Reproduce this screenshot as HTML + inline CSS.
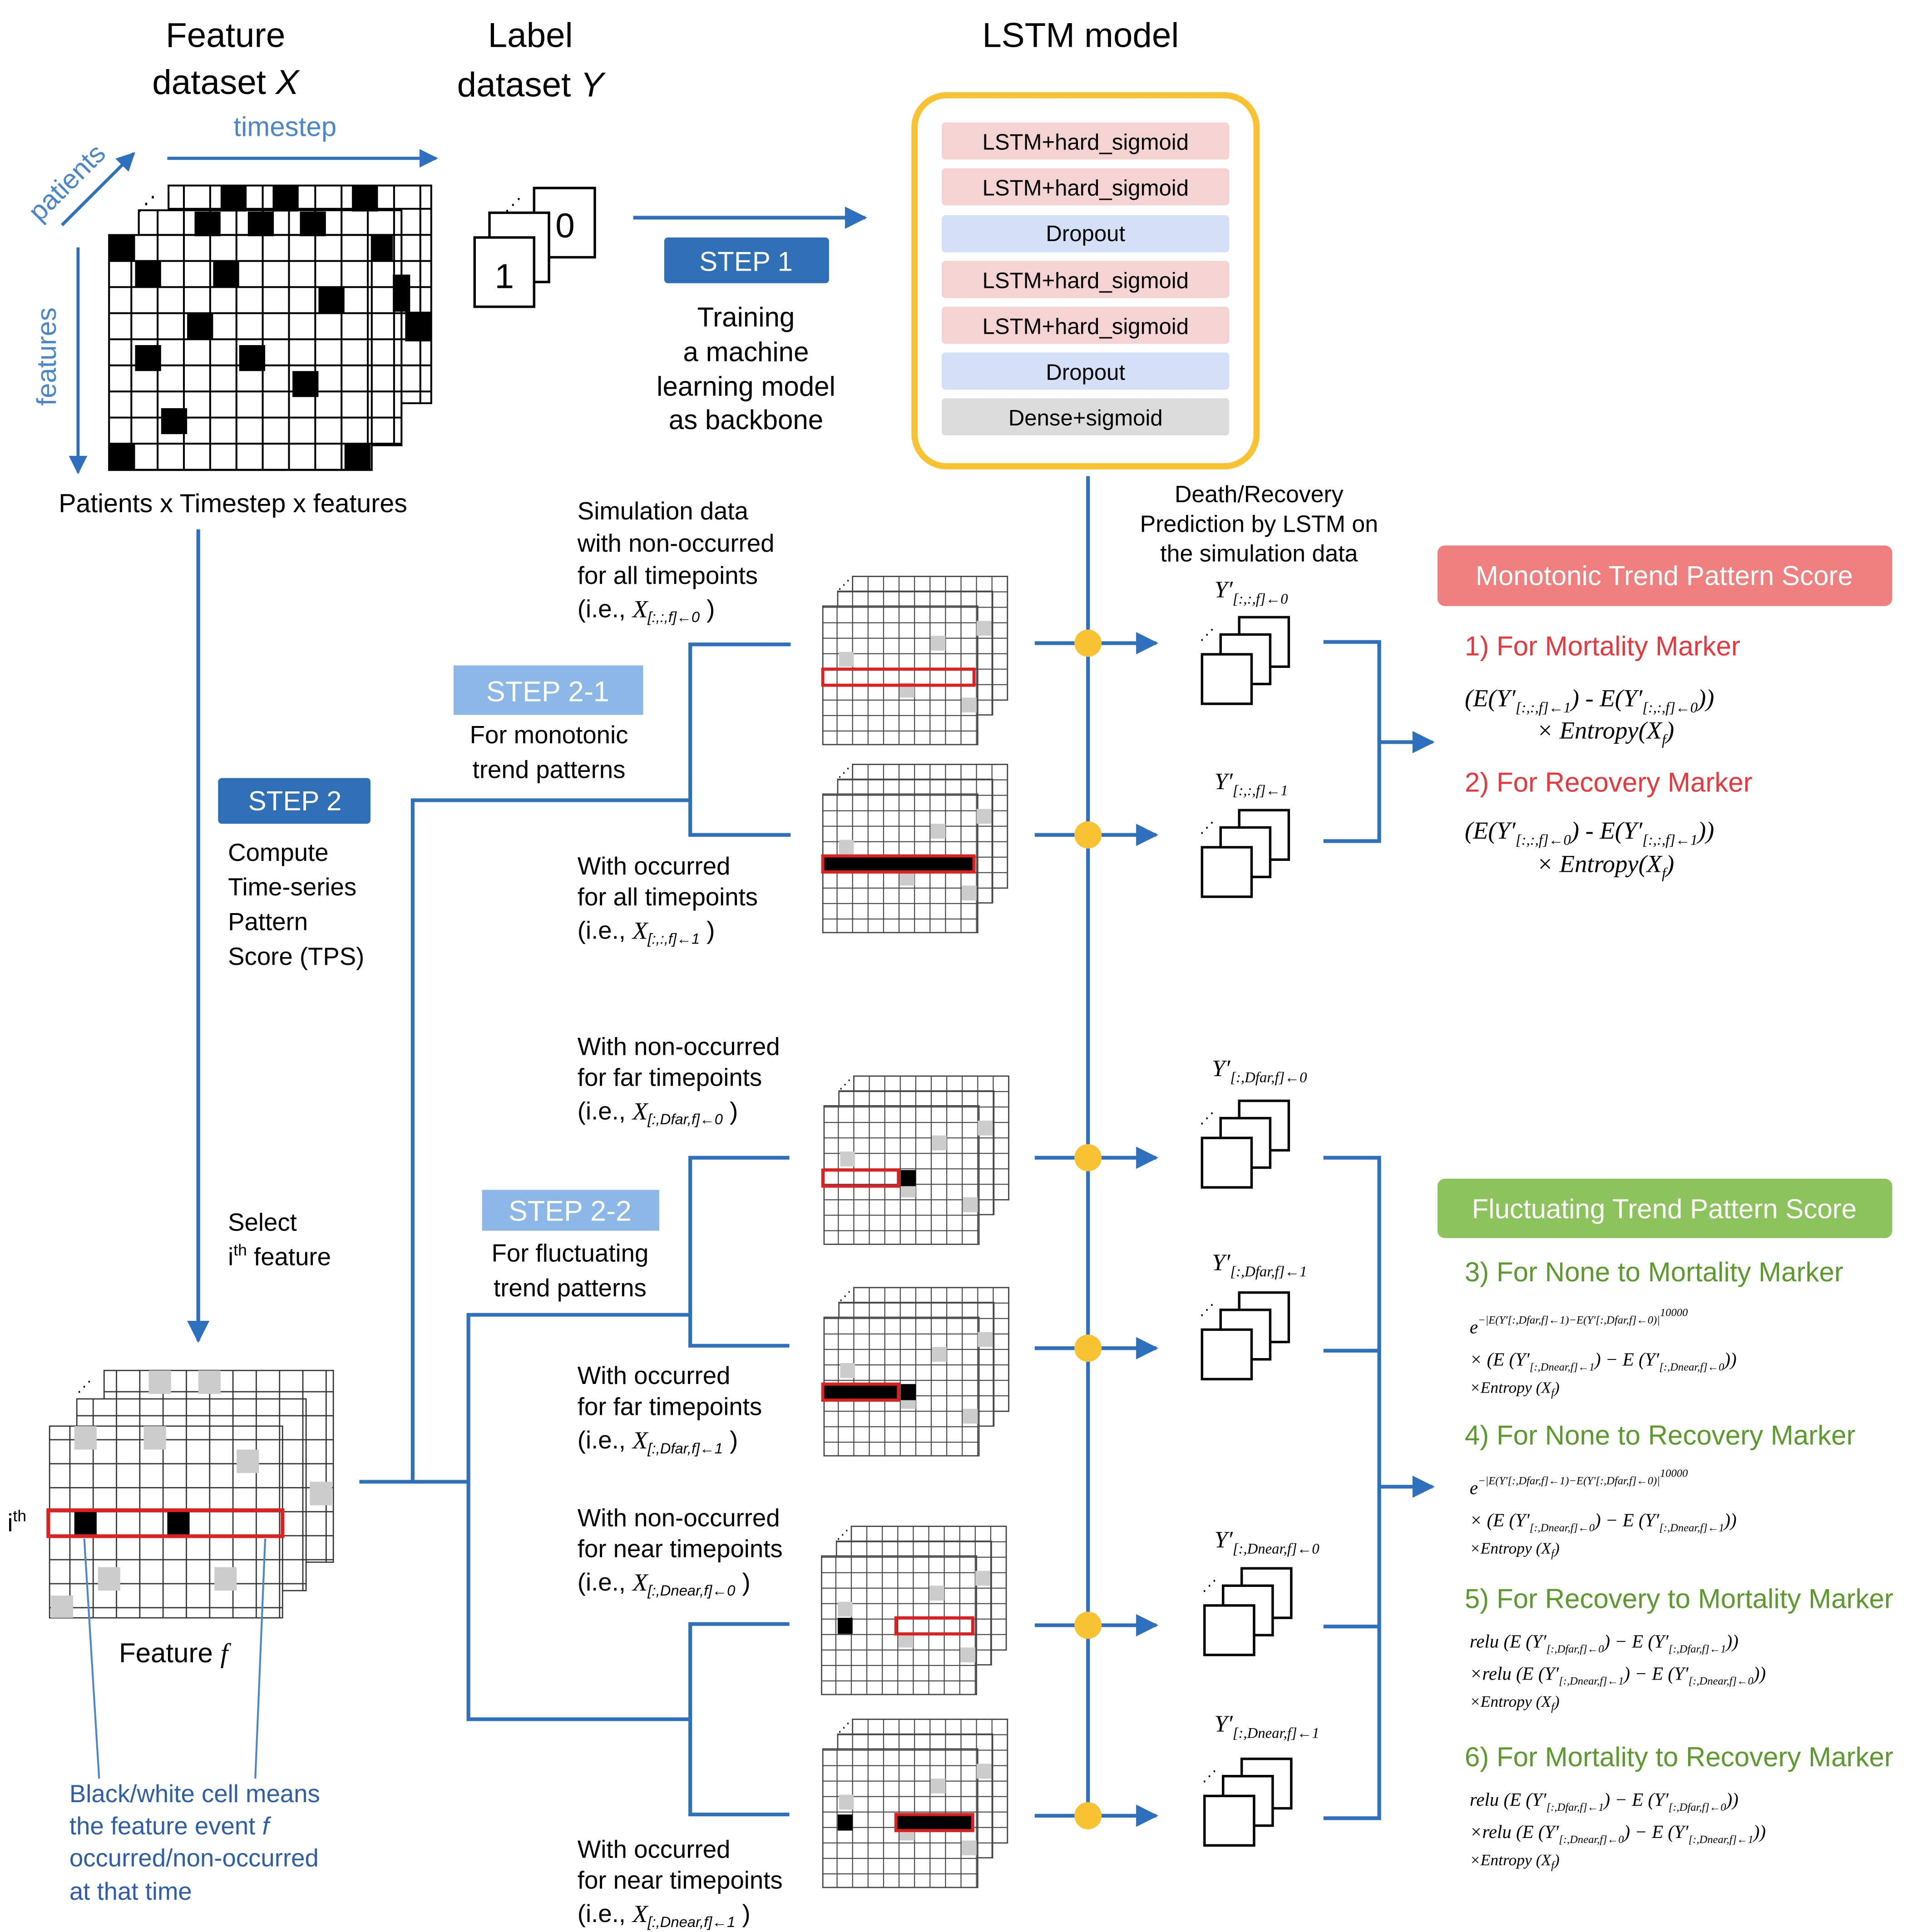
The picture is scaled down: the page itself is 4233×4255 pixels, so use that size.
<!DOCTYPE html>
<html><head><meta charset="utf-8"><style>html,body{margin:0;padding:0;background:#fff}svg{display:block}</style></head><body>
<svg width="4233" height="4255" viewBox="0 0 1551 1562" preserveAspectRatio="none" xmlns="http://www.w3.org/2000/svg" font-family="Liberation Sans, sans-serif">
<defs>
<pattern id="g21" width="21.2" height="21.1" patternUnits="userSpaceOnUse"><rect width="21.2" height="21.1" fill="#fff" stroke="#000" stroke-width="1.5"/></pattern>
<pattern id="g12" width="12.5" height="12.5" patternUnits="userSpaceOnUse"><rect width="12.5" height="12.5" fill="#fff" stroke="#444" stroke-width="0.8"/></pattern>
<pattern id="g19" width="18.8" height="19.4" patternUnits="userSpaceOnUse"><rect width="18.8" height="19.4" fill="#fff" stroke="#333" stroke-width="1"/></pattern>
<marker id="a" viewBox="0 0 10 10" refX="9" refY="5" markerWidth="6" markerHeight="6" orient="auto"><path d="M0,0 L10,5 L0,10z" fill="#2e6fbe"/></marker>
<g id="sg">
<rect x="0" y="0" width="125" height="100" fill="url(#g12)" stroke="#444"/>
<rect x="-12" y="12" width="125" height="100" fill="url(#g12)" stroke="#444"/>
<rect x="-24" y="24" width="125" height="112" fill="url(#g12)" stroke="#444"/>
<g fill="#ccc"><rect x="-11" y="61" width="12" height="12"/><rect x="38" y="86" width="12" height="12"/><rect x="88" y="98" width="12" height="12"/><rect x="63" y="48" width="12" height="12"/><rect x="100" y="36" width="12" height="12"/></g>
<text x="-12" y="10" font-size="10">⋰</text>
</g>
<g id="ob" fill="#fff" stroke="#000" stroke-width="2">
<rect x="30" y="0" width="40" height="40"/><rect x="15" y="14" width="40" height="40"/><rect x="0" y="30" width="40" height="40"/>
<text x="-2" y="18" font-size="12" stroke="none" fill="#000">⋰</text>
</g>
</defs>
<rect width="1551" height="1562" fill="#fff"/>
<g font-size="28" text-anchor="middle" fill="#000">
<text x="182" y="38">Feature</text><text x="182" y="76">dataset <tspan font-style="italic">X</tspan></text>
<text x="428" y="38">Label</text><text x="428" y="78">dataset <tspan font-style="italic">Y</tspan></text>
<text x="872" y="38">LSTM model</text>
</g>
<g stroke="#2e6fbe" stroke-width="2.5" fill="none">
<line x1="135" y1="128" x2="352" y2="128" marker-end="url(#a)"/>
<line x1="50" y1="182" x2="108" y2="124" marker-end="url(#a)"/>
<line x1="63" y1="200" x2="63" y2="382" marker-end="url(#a)"/>
</g>
<text x="230" y="110" font-size="22" fill="#4a86c8" text-anchor="middle">timestep</text>
<text transform="translate(32,180) rotate(-45)" font-size="22" fill="#4a86c8">patients</text>
<text transform="translate(45,328) rotate(-90)" font-size="22" fill="#4a86c8">features</text>
<g>
<rect x="136" y="150" width="212" height="176" fill="url(#g21)" stroke="#000" stroke-width="1.5"/>
<rect x="112" y="170" width="212" height="190" fill="url(#g21)" stroke="#000" stroke-width="1.5"/>
<rect x="88" y="190" width="212" height="190" fill="url(#g21)" stroke="#000" stroke-width="1.5"/>
<g fill="#000">
<rect x="178" y="150" width="21" height="21"/><rect x="220" y="150" width="21" height="21"/><rect x="284" y="150" width="21" height="21"/>
<rect x="157" y="171" width="21" height="20"/><rect x="200" y="171" width="21" height="20"/><rect x="242" y="171" width="21" height="20"/>
<rect x="88" y="190" width="21" height="21"/><rect x="300" y="190" width="17" height="21"/><rect x="317" y="222" width="14" height="30"/><rect x="327" y="252" width="21" height="24"/>
<rect x="109" y="211" width="21" height="21"/><rect x="172" y="211" width="21" height="21"/>
<rect x="257" y="232" width="21" height="21"/><rect x="151" y="253" width="21" height="21"/>
<rect x="109" y="279" width="21" height="21"/><rect x="193" y="279" width="21" height="21"/>
<rect x="236" y="300" width="21" height="21"/><rect x="130" y="330" width="21" height="21"/>
<rect x="88" y="359" width="21" height="21"/><rect x="278" y="359" width="21" height="21"/>
</g>
<text x="110" y="170" font-size="16">⋰</text>
</g>
<text x="188" y="414" font-size="21" text-anchor="middle">Patients x Timestep x features</text>
<rect x="431" y="152" width="49" height="56" fill="#fff" stroke="#000" stroke-width="2"/>
<rect x="395" y="172" width="48" height="56" fill="#fff" stroke="#000" stroke-width="2"/>
<rect x="383" y="192" width="48" height="56" fill="#fff" stroke="#000" stroke-width="2"/>
<text x="456" y="192" font-size="28" text-anchor="middle">0</text>
<text x="407" y="233" font-size="28" text-anchor="middle">1</text>
<text x="407" y="170" font-size="14">⋰</text>
<line x1="511" y1="176" x2="698" y2="176" stroke="#2e6fbe" stroke-width="3" marker-end="url(#a)"/>
<rect x="536" y="192" width="133" height="37" rx="3" fill="#2e6fb6"/>
<text x="602" y="219" font-size="22" fill="#fff" text-anchor="middle">STEP 1</text>
<g font-size="22" text-anchor="middle"><text x="602" y="264">Training</text><text x="602" y="292">a machine</text><text x="602" y="320">learning model</text><text x="602" y="347">as backbone</text></g>
<rect x="738" y="77" width="276" height="300" rx="26" fill="#fff" stroke="#f9c232" stroke-width="5"/>
<g font-size="18" text-anchor="middle">
<rect x="760" y="99" width="232" height="30" rx="3" fill="#f6d3d3"/><text x="876" y="121">LSTM+hard_sigmoid</text>
<rect x="760" y="136" width="232" height="30" rx="3" fill="#f6d3d3"/><text x="876" y="158">LSTM+hard_sigmoid</text>
<rect x="760" y="174" width="232" height="30" rx="3" fill="#d3e0f8"/><text x="876" y="195">Dropout</text>
<rect x="760" y="211" width="232" height="30" rx="3" fill="#f6d3d3"/><text x="876" y="233">LSTM+hard_sigmoid</text>
<rect x="760" y="248" width="232" height="30" rx="3" fill="#f6d3d3"/><text x="876" y="270">LSTM+hard_sigmoid</text>
<rect x="760" y="285" width="232" height="30" rx="3" fill="#d3e0f8"/><text x="876" y="307">Dropout</text>
<rect x="760" y="322" width="232" height="30" rx="3" fill="#dcdcdc"/><text x="876" y="344">Dense+sigmoid</text>
</g>
<g font-size="19" text-anchor="middle"><text x="1016" y="406">Death/Recovery</text><text x="1016" y="430">Prediction by LSTM on</text><text x="1016" y="454">the simulation data</text></g>
<g stroke="#2e6fbe" stroke-width="3" fill="none">
<line x1="160" y1="428" x2="160" y2="1084" marker-end="url(#a)"/>
<polyline points="290,1198 333,1198 333,647 557,647"/>
<polyline points="638,521 557,521 557,675 638,675"/>
<polyline points="333,1198 378,1198"/>
<polyline points="557,1063 378,1063 378,1390 557,1390"/>
<polyline points="637,936 557,936 557,1088 637,1088"/>
<polyline points="637,1313 557,1313 557,1467 637,1467"/>
<line x1="878" y1="385" x2="878" y2="1470"/>
<line x1="835" y1="520" x2="933" y2="520" marker-end="url(#a)"/>
<line x1="835" y1="675" x2="933" y2="675" marker-end="url(#a)"/>
<line x1="835" y1="936" x2="933" y2="936" marker-end="url(#a)"/>
<line x1="835" y1="1090" x2="933" y2="1090" marker-end="url(#a)"/>
<line x1="835" y1="1314" x2="933" y2="1314" marker-end="url(#a)"/>
<line x1="835" y1="1468" x2="933" y2="1468" marker-end="url(#a)"/>
<polyline points="1068,519 1113,519 1113,680 1068,680"/>
<line x1="1113" y1="600" x2="1156" y2="600" marker-end="url(#a)"/>
<polyline points="1068,936 1113,936 1113,1470 1068,1470"/>
<line x1="1068" y1="1092" x2="1113" y2="1092"/><line x1="1068" y1="1315" x2="1113" y2="1315"/>
<line x1="1113" y1="1202" x2="1156" y2="1202" marker-end="url(#a)"/>
</g>
<g fill="#f9c232"><circle cx="878" cy="520" r="11"/><circle cx="878" cy="675" r="11"/><circle cx="878" cy="936" r="11"/><circle cx="878" cy="1090" r="11"/><circle cx="878" cy="1314" r="11"/><circle cx="878" cy="1468" r="11"/></g>
<rect x="366" y="538" width="153" height="40" fill="#8bb8e6"/><text x="442" y="567" font-size="23" fill="#fff" text-anchor="middle">STEP 2-1</text>
<g font-size="20" text-anchor="middle"><text x="443" y="601">For monotonic</text><text x="443" y="629">trend patterns</text></g>
<rect x="176" y="629" width="123" height="37" rx="3" fill="#2e6fb6"/><text x="238" y="655" font-size="22" fill="#fff" text-anchor="middle">STEP 2</text>
<g font-size="20"><text x="184" y="696">Compute</text><text x="184" y="724">Time-series</text><text x="184" y="752">Pattern</text><text x="184" y="780">Score (TPS)</text>
<text x="184" y="995">Select</text><text x="184" y="1023">i<tspan font-size="13" dy="-8">th</tspan><tspan dy="8"> feature</tspan></text></g>
<rect x="389" y="962" width="143" height="33" fill="#8bb8e6"/><text x="460" y="987" font-size="23" fill="#fff" text-anchor="middle">STEP 2-2</text>
<g font-size="20" text-anchor="middle"><text x="460" y="1020">For fluctuating</text><text x="460" y="1048">trend patterns</text></g>
<g font-size="20">
<text x="466" y="420">Simulation  data</text><text x="466" y="446">with  non-occurred</text><text x="466" y="472">for all timepoints</text><text x="466" y="499">(i.e., <tspan font-family="Liberation Serif" font-style="italic">X</tspan><tspan font-size="12" font-style="italic" dy="4">[:,:,f]←0</tspan><tspan dy="-4"> )</tspan></text>
<text x="466" y="707">With occurred</text><text x="466" y="732">for all timepoints</text><text x="466" y="759">(i.e., <tspan font-family="Liberation Serif" font-style="italic">X</tspan><tspan font-size="12" font-style="italic" dy="4">[:,:,f]←1</tspan><tspan dy="-4"> )</tspan></text>
<text x="466" y="853">With non-occurred</text><text x="466" y="878">for far timepoints</text><text x="466" y="905">(i.e., <tspan font-family="Liberation Serif" font-style="italic">X</tspan><tspan font-size="12" font-style="italic" dy="4">[:,Dfar,f]←0</tspan><tspan dy="-4"> )</tspan></text>
<text x="466" y="1119">With occurred</text><text x="466" y="1144">for far timepoints</text><text x="466" y="1171">(i.e., <tspan font-family="Liberation Serif" font-style="italic">X</tspan><tspan font-size="12" font-style="italic" dy="4">[:,Dfar,f]←1</tspan><tspan dy="-4"> )</tspan></text>
<text x="466" y="1234">With non-occurred</text><text x="466" y="1259">for near timepoints</text><text x="466" y="1286">(i.e., <tspan font-family="Liberation Serif" font-style="italic">X</tspan><tspan font-size="12" font-style="italic" dy="4">[:,Dnear,f]←0</tspan><tspan dy="-4"> )</tspan></text>
<text x="466" y="1502">With occurred</text><text x="466" y="1527">for near timepoints</text><text x="466" y="1554">(i.e., <tspan font-family="Liberation Serif" font-style="italic">X</tspan><tspan font-size="12" font-style="italic" dy="4">[:,Dnear,f]←1</tspan><tspan dy="-4"> )</tspan></text>
</g>
<use href="#sg" x="688" y="466"/><use href="#sg" x="688" y="618"/>
<use href="#sg" x="689" y="870"/><use href="#sg" x="689" y="1041"/>
<use href="#sg" x="687" y="1234"/><use href="#sg" x="688" y="1390"/>
<rect x="664" y="541" width="122" height="13" fill="none" stroke="#e02020" stroke-width="2.5"/>
<rect x="664" y="692" width="122" height="13" fill="#000" stroke="#e02020" stroke-width="2.5"/>
<rect x="664" y="946" width="61" height="13" fill="none" stroke="#e02020" stroke-width="2.5"/><rect x="727" y="946" width="12" height="13" fill="#000"/>
<rect x="664" y="1119" width="61" height="13" fill="#000" stroke="#e02020" stroke-width="2.5"/><rect x="727" y="1119" width="12" height="13" fill="#000"/>
<rect x="723" y="1308" width="62" height="13" fill="none" stroke="#e02020" stroke-width="2.5"/><rect x="676" y="1308" width="12" height="13" fill="#000"/>
<rect x="723" y="1467" width="62" height="13" fill="#000" stroke="#e02020" stroke-width="2.5"/><rect x="676" y="1467" width="12" height="13" fill="#000"/>
<use href="#ob" x="970" y="499"/><use href="#ob" x="970" y="655"/>
<use href="#ob" x="970" y="890"/><use href="#ob" x="970" y="1045"/>
<use href="#ob" x="972" y="1268"/><use href="#ob" x="972" y="1422"/>
<g font-family="Liberation Serif" font-style="italic" font-size="19">
<text x="980" y="483">Y′<tspan font-size="12" dy="5">[:,:,f]←0</tspan></text>
<text x="980" y="638">Y′<tspan font-size="12" dy="5">[:,:,f]←1</tspan></text>
<text x="978" y="870">Y′<tspan font-size="12" dy="5">[:,Dfar,f]←0</tspan></text>
<text x="978" y="1027">Y′<tspan font-size="12" dy="5">[:,Dfar,f]←1</tspan></text>
<text x="980" y="1251">Y′<tspan font-size="12" dy="5">[:,Dnear,f]←0</tspan></text>
<text x="980" y="1400">Y′<tspan font-size="12" dy="5">[:,Dnear,f]←1</tspan></text>
</g>
<rect x="84" y="1108" width="185" height="155" fill="url(#g19)" stroke="#333"/>
<rect x="62" y="1131" width="185" height="155" fill="url(#g19)" stroke="#333"/>
<rect x="40" y="1153" width="188" height="155" fill="url(#g19)" stroke="#333"/>
<g fill="#ccc"><rect x="160" y="1108" width="18" height="19"/><rect x="120" y="1108" width="18" height="19"/><rect x="250" y="1198" width="18" height="19"/><rect x="60" y="1153" width="18" height="19"/><rect x="116" y="1153" width="18" height="19"/><rect x="191" y="1172" width="18" height="19"/><rect x="79" y="1267" width="18" height="19"/><rect x="41" y="1290" width="18" height="18"/><rect x="173" y="1267" width="18" height="19"/></g>
<rect x="60" y="1222" width="18" height="19" fill="#000"/><rect x="135" y="1222" width="18" height="19" fill="#000"/>
<rect x="39" y="1221" width="189" height="21" fill="none" stroke="#e02020" stroke-width="3"/>
<text x="62" y="1125" font-size="12">⋰</text>
<text x="6" y="1238" font-size="20">i<tspan font-size="13" dy="-8">th</tspan></text>
<text x="96" y="1344" font-size="22">Feature <tspan font-style="italic" font-family="Liberation Serif">f</tspan></text>
<g stroke="#4a86c8" stroke-width="1.5"><line x1="68" y1="1244" x2="80" y2="1438"/><line x1="214" y1="1244" x2="206" y2="1438"/></g>
<g font-size="20" fill="#2f5ea8"><text x="56" y="1457">Black/white  cell means</text><text x="56" y="1483">the feature event <tspan font-style="italic">f</tspan></text><text x="56" y="1509">occurred/non-occurred</text><text x="56" y="1536">at that time</text></g>
<rect x="1160" y="441" width="367" height="49" rx="6" fill="#f08080"/>
<text x="1343" y="473" font-size="22" fill="#fff" text-anchor="middle">Monotonic Trend Pattern Score</text>
<g font-size="22" fill="#e8383d"><text x="1182" y="530">1) For Mortality Marker</text><text x="1182" y="640">2) For Recovery Marker</text></g>
<g font-family="Liberation Serif" font-style="italic" font-size="20">
<text x="1182" y="571">(E(Y′<tspan font-size="12" dy="5">[:,:,f]←1</tspan><tspan dy="-5">) - E(Y′</tspan><tspan font-size="12" dy="5">[:,:,f]←0</tspan><tspan dy="-5">))</tspan></text>
<text x="1240" y="597">× Entropy(X<tspan font-size="12" dy="5">f</tspan><tspan dy="-5">)</tspan></text>
<text x="1182" y="678">(E(Y′<tspan font-size="12" dy="5">[:,:,f]←0</tspan><tspan dy="-5">) - E(Y′</tspan><tspan font-size="12" dy="5">[:,:,f]←1</tspan><tspan dy="-5">))</tspan></text>
<text x="1240" y="705">× Entropy(X<tspan font-size="12" dy="5">f</tspan><tspan dy="-5">)</tspan></text>
</g>
<rect x="1160" y="953" width="367" height="48" rx="6" fill="#8cc35d"/>
<text x="1343" y="985" font-size="22" fill="#fff" text-anchor="middle">Fluctuating  Trend Pattern Score</text>
<g font-size="22" fill="#5c9a2e"><text x="1182" y="1036">3) For None to Mortality Marker</text><text x="1182" y="1168">4) For None to Recovery Marker</text><text x="1182" y="1300">5) For Recovery to Mortality Marker</text><text x="1182" y="1428">6) For Mortality to Recovery Marker</text></g>
<g font-family="Liberation Serif" font-style="italic" font-size="15">
<text x="1186" y="1078">e<tspan font-size="9" dy="-8">−|E(Y′[:,Dfar,f]←1)−E(Y′[:,Dfar,f]←0)|</tspan><tspan font-size="9" dy="-6">10000</tspan></text>
<text x="1186" y="1104">× (E (Y′<tspan font-size="9" dy="4">[:,Dnear,f]←1</tspan><tspan dy="-4">) − E (Y′</tspan><tspan font-size="9" dy="4">[:,Dnear,f]←0</tspan><tspan dy="-4">))</tspan></text>
<text x="1186" y="1126" font-size="13">×Entropy (X<tspan font-size="9" dy="3">f</tspan><tspan dy="-3">)</tspan></text>
<text x="1186" y="1208">e<tspan font-size="9" dy="-8">−|E(Y′[:,Dfar,f]←1)−E(Y′[:,Dfar,f]←0)|</tspan><tspan font-size="9" dy="-6">10000</tspan></text>
<text x="1186" y="1234">× (E (Y′<tspan font-size="9" dy="4">[:,Dnear,f]←0</tspan><tspan dy="-4">) − E (Y′</tspan><tspan font-size="9" dy="4">[:,Dnear,f]←1</tspan><tspan dy="-4">))</tspan></text>
<text x="1186" y="1256" font-size="13">×Entropy (X<tspan font-size="9" dy="3">f</tspan><tspan dy="-3">)</tspan></text>
<text x="1186" y="1332">relu (E (Y′<tspan font-size="9" dy="4">[:,Dfar,f]←0</tspan><tspan dy="-4">) − E (Y′</tspan><tspan font-size="9" dy="4">[:,Dfar,f]←1</tspan><tspan dy="-4">))</tspan></text>
<text x="1186" y="1358">×relu (E (Y′<tspan font-size="9" dy="4">[:,Dnear,f]←1</tspan><tspan dy="-4">) − E (Y′</tspan><tspan font-size="9" dy="4">[:,Dnear,f]←0</tspan><tspan dy="-4">))</tspan></text>
<text x="1186" y="1380" font-size="13">×Entropy (X<tspan font-size="9" dy="3">f</tspan><tspan dy="-3">)</tspan></text>
<text x="1186" y="1460">relu (E (Y′<tspan font-size="9" dy="4">[:,Dfar,f]←1</tspan><tspan dy="-4">) − E (Y′</tspan><tspan font-size="9" dy="4">[:,Dfar,f]←0</tspan><tspan dy="-4">))</tspan></text>
<text x="1186" y="1486">×relu (E (Y′<tspan font-size="9" dy="4">[:,Dnear,f]←0</tspan><tspan dy="-4">) − E (Y′</tspan><tspan font-size="9" dy="4">[:,Dnear,f]←1</tspan><tspan dy="-4">))</tspan></text>
<text x="1186" y="1508" font-size="13">×Entropy (X<tspan font-size="9" dy="3">f</tspan><tspan dy="-3">)</tspan></text>
</g>
</svg>
</body></html>
